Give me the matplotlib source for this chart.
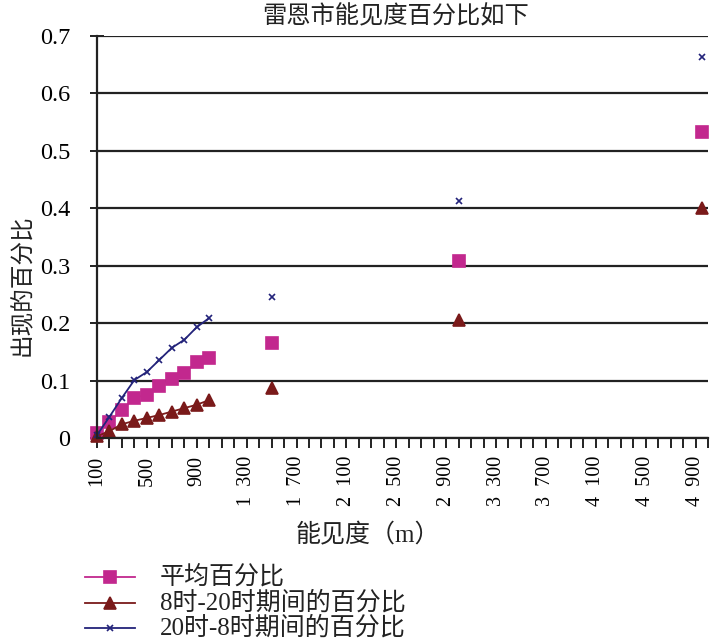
import matplotlib
matplotlib.use("Agg")
import matplotlib.pyplot as plt
from matplotlib.lines import Line2D
from matplotlib.ticker import MultipleLocator, FixedLocator, FuncFormatter

# 能见度 (m) 以及三组百分比
visibility = [100, 200, 300, 400, 500, 600, 700, 800, 900, 1000, 1500, 3000, 4950]
avg_pct = [0.009, 0.028, 0.049, 0.070, 0.075, 0.091, 0.102, 0.113, 0.132, 0.139,
           0.165, 0.308, 0.533]
day_pct = [0.003, 0.012, 0.024, 0.030, 0.035, 0.040, 0.046, 0.052, 0.058, 0.066,
           0.087, 0.205, 0.400]
night_pct = [0.005, 0.037, 0.070, 0.101, 0.115, 0.136, 0.157, 0.171, 0.193, 0.209,
             0.245, 0.413, 0.664]

labels = ["平均百分比", "8时-20时期间的百分比", "20时-8时期间的百分比"]
x_label_ticks = list(range(100, 5000, 400))

serif = ["Liberation Serif", "Noto Sans CJK SC"]
cjk = ["Noto Sans CJK SC", "DejaVu Sans"]
ink = "#222222"

fig = plt.figure(figsize=(7.15, 6.44), dpi=100)
ax = fig.add_axes([97 / 715, 1 - 438 / 644, 611 / 715, 402 / 644])

n = 10  # 前 10 个点连线，其余为孤立点
styles = [
    (avg_pct, "#c2288e", "s", 9),
    (day_pct, "#7a1a1a", "^", 8),
    (night_pct, "#23237a", "x", 5),
]
for vals, color, mk, ms in styles:
    ax.plot(visibility[:n], vals[:n], color=color, marker=mk, markersize=ms,
            linewidth=1.3, markeredgewidth=1.2, clip_on=False)
    ax.plot(visibility[n:], vals[n:], linestyle="none", color=color, marker=mk,
            markersize=ms, markeredgewidth=1.2, clip_on=False)

ax.set_xlim(100, 5000)
ax.set_ylim(0, 0.7)

ax.xaxis.set_major_locator(FixedLocator(x_label_ticks))
ax.xaxis.set_minor_locator(MultipleLocator(100))
ax.xaxis.set_major_formatter(FuncFormatter(
    lambda v, p: f"{int(v):,}".replace(",", "\u2002")))
ax.yaxis.set_major_locator(MultipleLocator(0.1))
ax.yaxis.set_major_formatter(FuncFormatter(lambda v, p: "0" if v == 0 else f"{v:.1f}"))

ax.tick_params(axis="x", which="both", direction="out", length=7, width=1.4, color=ink)
ax.tick_params(axis="x", which="major", labelrotation=90, pad=6)
ax.tick_params(axis="y", direction="inout", length=10, width=1.4, color=ink, pad=14)
for lbl in ax.get_xticklabels():
    lbl.set_fontfamily(serif)
    lbl.set_fontsize(14.5)
for lbl in ax.get_yticklabels():
    lbl.set_fontfamily(serif)
    lbl.set_fontsize(17.5)

ax.grid(axis="y", color=ink, linewidth=1.6)
ax.set_axisbelow(True)
for side in ("top", "right"):
    ax.spines[side].set_visible(False)
for side in ("left", "bottom"):
    ax.spines[side].set_linewidth(1.6)
    ax.spines[side].set_color(ink)

fig.text(396 / 715, 1 - 16 / 644, "雷恩市能见度百分比如下", ha="center", va="center",
         fontsize=17.5, family=cjk, color=ink)
fig.text(22 / 715, 1 - 285 / 644, "出现的百分比", ha="center", va="center",
         rotation=90, fontsize=17, family=cjk, color=ink)
fig.text(368 / 715, 1 - 535 / 644, "能见度（m）", ha="center", va="center",
         fontsize=18, family=serif, color=ink)

# 图例：图下方左侧三行
legend_rows = [577, 603, 628]
for (vals, color, mk, ms), lab, ypix in zip(styles, labels, legend_rows):
    y = 1 - ypix / 644
    fig.add_artist(Line2D([85 / 715, 135 / 715], [y, y], color=color, linewidth=1.3,
                          transform=fig.transFigure))
    fig.add_artist(Line2D([110 / 715], [y], color=color, marker=mk, markersize=ms,
                          markeredgewidth=1.2, transform=fig.transFigure))
    fig.text(160 / 715, y, lab, ha="left", va="center", fontsize=18,
             family=serif, color=ink)

fig.savefig("out.png", dpi=100)
